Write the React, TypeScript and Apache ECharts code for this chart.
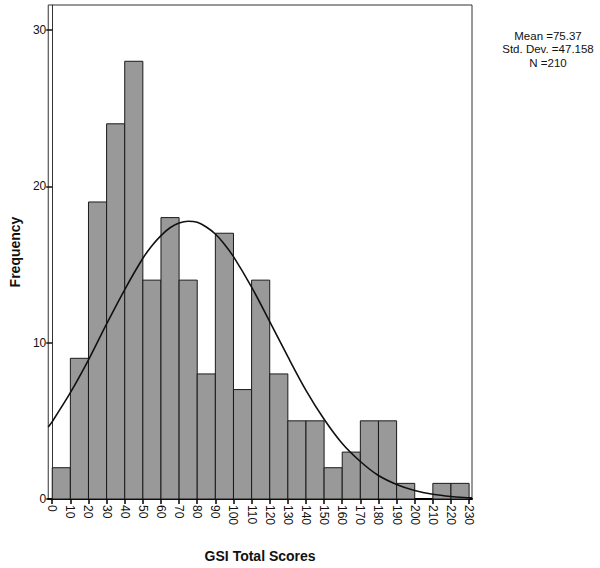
import React, { useEffect, useRef } from "react";
import * as echarts from "echarts";

// Histogram bins (lower edges) and frequencies
const binEdges = [0, 10, 20, 30, 40, 50, 60, 70, 80, 90, 100, 110, 120, 130, 140, 150, 160, 170, 180, 190, 200, 210, 220, 230];
const frequencies = [2, 9, 19, 24, 28, 14, 18, 14, 8, 17, 7, 14, 8, 5, 5, 2, 3, 5, 5, 1, 0, 1, 1];

// Normal curve
const curveX = [-2.2, 0, 10, 20, 30, 40, 50, 55, 60, 65, 70, 75, 80, 85, 90, 95, 100, 110, 120, 130, 140, 150, 160, 170, 180, 190, 200, 210, 220, 230, 231.6];
const curveY = [4.6, 4.95, 6.8, 8.9, 11.2, 13.4, 15.4, 16.2, 16.85, 17.35, 17.65, 17.77, 17.7, 17.4, 16.95, 16.3, 15.5, 13.55, 11.35, 9.1, 6.95, 5.1, 3.55, 2.4, 1.5, 0.93, 0.54, 0.3, 0.16, 0.08, 0.07];

const xTicks = [0, 10, 20, 30, 40, 50, 60, 70, 80, 90, 100, 110, 120, 130, 140, 150, 160, 170, 180, 190, 200, 210, 220, 230];
const yTicks = [0, 10, 20, 30];

const statsLines = ["Mean =75.37", "Std. Dev. =47.158", "N =210"];

const FONT = "'Liberation Sans Narrow', 'Arial Narrow', 'Liberation Sans', Arial, sans-serif";
const BOLD_FONT = "'Liberation Sans', Arial, sans-serif";

export default function App() {
  const ref = useRef<HTMLDivElement>(null);

  useEffect(() => {
    if (!ref.current) return;
    const chart = echarts.init(ref.current, null, { renderer: "svg" });

    const barData = frequencies.map((f, i) => [binEdges[i], binEdges[i + 1], f]);
    const lineData = curveX.map((x, i) => [x, curveY[i]]);

    chart.setOption({
      animation: false,
      backgroundColor: "#ffffff",
      grid: {
        left: 48,
        right: 128,
        top: 5,
        bottom: 68,
        show: true,
        borderColor: "#333",
        borderWidth: 1,
        backgroundColor: "transparent",
      },
      xAxis: {
        type: "value",
        min: -2.2,
        max: 231.6,
        name: "GSI Total Scores",
        nameLocation: "middle",
        nameGap: 50,
        nameTextStyle: { fontFamily: BOLD_FONT, fontWeight: "bold", fontSize: 14, color: "#111" },
        axisLine: { show: true, onZero: false, lineStyle: { color: "#000", width: 2 } },
        axisTick: { show: true, length: 5, lineStyle: { color: "#000", width: 1.5 }, customValues: xTicks },
        axisLabel: {
          customValues: xTicks,
          rotate: -90,
          margin: 6,
          fontSize: 12,
          fontFamily: FONT,
          color: "#111",
        },
        splitLine: { show: false },
      },
      yAxis: {
        type: "value",
        min: 0,
        max: 31.6,
        name: "Frequency",
        nameLocation: "middle",
        nameGap: 23,
        nameTextStyle: { fontFamily: BOLD_FONT, fontWeight: "bold", fontSize: 14, color: "#111" },
        axisLine: { show: true, lineStyle: { color: "#333", width: 1 } },
        axisTick: { show: true, length: 6, lineStyle: { color: "#111", width: 1.5 }, customValues: yTicks },
        axisLabel: { customValues: yTicks, margin: 2, fontSize: 12, fontFamily: FONT, color: "#111" },
        splitLine: { show: false },
      },
      graphic: [
        {
          type: "text",
          x: 548,
          y: 29,
          style: {
            text: statsLines.join("\n"),
            font: "11.5px " + FONT,
            fill: "#111",
            align: "center",
            textAlign: "center",
            verticalAlign: "top",
            lineHeight: 13.5,
          },
        },
      ],
      series: [
        {
          type: "custom",
          data: barData,
          encode: { x: [0, 1], y: 2 },
          renderItem: (params: any, api: any) => {
            const x0 = api.value(0);
            const x1 = api.value(1);
            const y = api.value(2);
            if (!y) return null;
            const pTop = api.coord([x0, y]);
            const pBot = api.coord([x1, 0]);
            return {
              type: "rect",
              shape: { x: pTop[0], y: pTop[1], width: pBot[0] - pTop[0], height: pBot[1] - pTop[1] },
              style: { fill: "#999999", stroke: "#1a1a1a", lineWidth: 1 },
            };
          },
          z: 2,
        },
        {
          type: "line",
          data: lineData,
          smooth: 0.3,
          symbol: "none",
          lineStyle: { color: "#111", width: 1.6 },
          z: 3,
        },
      ],
    });

    return () => chart.dispose();
  }, []);

  return (
    <div
      ref={ref}
      style={{ position: "absolute", left: 0, top: 0, width: 600, height: 568, background: "#fff" }}
    />
  );
}
